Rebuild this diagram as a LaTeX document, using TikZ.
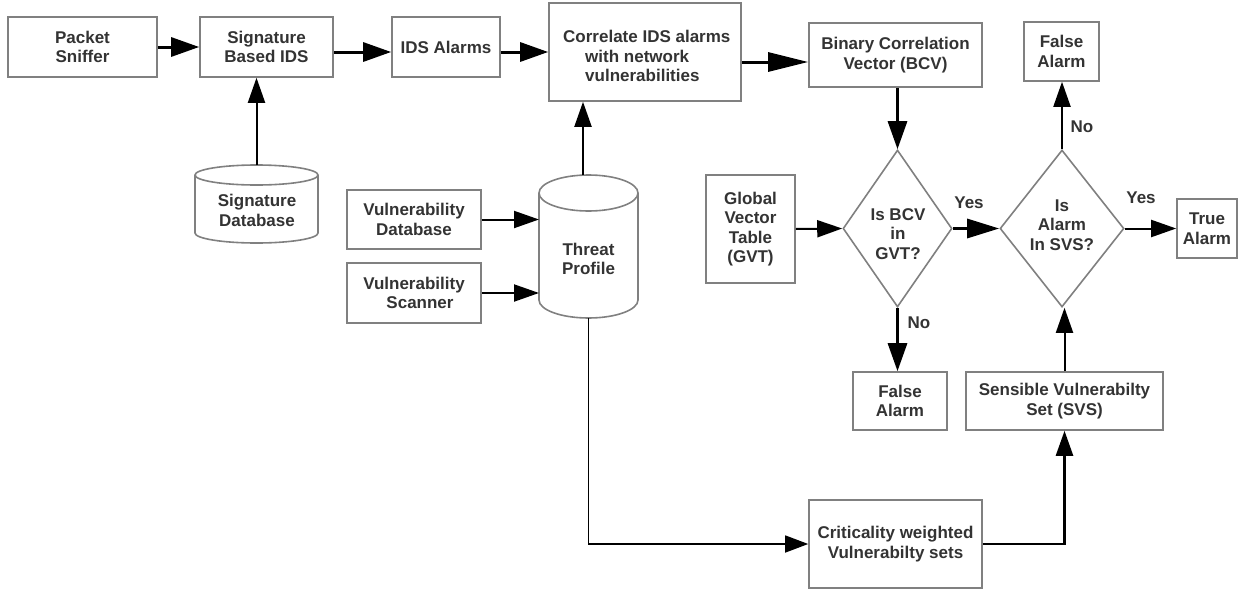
\documentclass[tikz,border=0pt]{standalone}
\usepackage{fontspec}
\setmainfont{Liberation Sans}
\usetikzlibrary{arrows.meta,shapes.geometric}
\definecolor{edgegray}{HTML}{808080}
\definecolor{inkgray}{HTML}{333333}
\begin{document}
\begin{tikzpicture}[x=1pt,y=-1pt,
  every node/.style={font=\fontsize{17}{19.5}\selectfont\bfseries, text=inkgray},
  box/.style={draw=edgegray, line width=1.6pt, fill=white, align=center, inner sep=0pt},
  decision/.style={diamond, draw=edgegray, line width=1.6pt, fill=white, inner sep=0pt},
  cyl/.style={draw=edgegray, line width=1.6pt, fill=white},
  holder/.style={inner sep=0pt, outer sep=0pt},
  caption/.style={align=center, inner sep=0pt},
  answer/.style={inner sep=0pt},
  flowthick/.style={line width=3pt, -{Triangle[length=28pt,width=19pt]}},
  flowthin/.style={line width=2pt, -{Triangle[length=25pt,width=17pt]}},
  flowhair/.style={line width=1.5pt, -{Triangle[length=23pt,width=17pt]}}]

\useasboundingbox (0,0) rectangle (1248,589);

% --- IDS pipeline, top row
\node[box, minimum width=149pt, minimum height=60pt] (ps) at (82.5,47) {Packet\\Sniffer};
\node[box, minimum width=133pt, minimum height=60pt] (sig) at (266.5,47) {Signature\\Based IDS};
\node[box, minimum width=108pt, minimum height=60pt] (alarms) at (446,47) {IDS Alarms};
\node[box, minimum width=192pt, minimum height=98pt] (corr) at (645,52) {};
\node[align=left, inner sep=0pt, anchor=west] (corrtxt) at (563,56)
  {Correlate IDS alarms\\\hspace*{22pt}with network\\\hspace*{22pt}vulnerabilities};
\node[box, minimum width=173pt, minimum height=64pt] (bcv) at (895.5,55) {Binary Correlation\\Vector (BCV)};
\node[box, minimum width=75pt, minimum height=59pt] (fa1) at (1061.5,51.5) {False\\Alarm};

% --- signature database (cylinder)
\draw[cyl] (195,175) -- (195,233)
  arc[start angle=180, end angle=360, x radius=61.5pt, y radius=10pt] -- (318,175);
\draw[cyl] (256.5,175) ellipse [x radius=61.5pt, y radius=10pt];
\node[holder, minimum width=123pt, minimum height=78pt] (sigdb) at (256.5,204) {};
\node[caption] (sigdbtxt) at (257,210.5) {Signature\\Database};

% --- vulnerability sources
\node[box, minimum width=134pt, minimum height=59pt] (vdb) at (414,219.5) {Vulnerability\\Database};
\node[box, minimum width=134pt, minimum height=60pt] (vsc) at (414,293) {Vulnerability\\\hspace*{12pt}Scanner};

% --- threat profile (cylinder)
\draw[cyl] (539,193) -- (539,300)
  arc[start angle=180, end angle=360, x radius=49.5pt, y radius=18pt] -- (638,193);
\draw[cyl] (588.5,193) ellipse [x radius=49.5pt, y radius=18pt];
\node[holder, minimum width=99pt, minimum height=143pt] (tp) at (588.5,246.5) {};
\node[caption] (tptxt) at (588.5,259) {Threat\\Profile};

% --- decision part
\node[box, minimum width=89pt, minimum height=108pt] (gvt) at (750.5,229) {Global\\Vector\\Table\\(GVT)};
\node[decision, minimum width=109pt, minimum height=157pt] (d1) at (897.5,228.5) {};
\node[caption] (d1txt) at (898,234) {Is BCV\\in\\GVT?};
\node[decision, minimum width=124pt, minimum height=157pt] (d2) at (1062,228.5) {};
\node[caption] (d2txt) at (1062,225) {Is\\Alarm\\In SVS?};
\node[box, minimum width=60pt, minimum height=59pt] (ta) at (1207,228.5) {True\\Alarm};
\node[box, minimum width=94pt, minimum height=58pt] (fa2) at (900,401) {False\\Alarm};
\node[box, minimum width=197pt, minimum height=58pt] (svs) at (1064.5,401) {Sensible Vulnerabilty\\Set (SVS)};
\node[box, minimum width=173pt, minimum height=88pt] (crit) at (895.5,544) {Criticality weighted\\Vulnerabilty sets};

% --- branch answers
\node[answer] (yes1) at (969,203) {Yes};
\node[answer] (yes2) at (1141,198) {Yes};
\node[answer] (no1) at (1082,127) {No};
\node[answer] (no2) at (919,323) {No};

% --- connectors
\coordinate (sigout) at ([yshift=-5pt]sig.east);
\coordinate (alout) at ([yshift=-5pt]alarms.east);
\coordinate (corrout) at ([yshift=-10pt]corr.east);
\coordinate (tpup) at ([xshift=-5.5pt]tp.north);

\draw[flowthick] (ps.east) -- (sig.west);
\draw[flowthick] (sigout) -- (sigout -| alarms.west);
\draw[flowthick] (alout) -- (alout -| corr.west);
\draw[line width=3pt, -{Triangle[length=40pt,width=19pt]}] (corrout) -- (corrout -| bcv.west);
\draw[flowthin] (sigdb.north) -- (sigdb.north |- sig.south);
\draw[flowthin] (tpup) -- (tpup |- corr.south);
\draw[flowthin] (vdb.east) -- (vdb.east -| tp.west);
\draw[flowthin] (vsc.east) -- (vsc.east -| tp.west);
\draw[flowhair] (tp.south) |- (crit.west);
\draw[line width=2.5pt, -{Triangle[length=25pt,width=17pt]}] (crit.east) -| (svs.south);
\draw[flowthin] (svs.north) -- (svs.north |- d2.south);
\draw[flowthick] (d1.north |- bcv.south) -- (d1.north);
\draw[flowthin] (gvt.east) -- (d1.west);
\draw[line width=3pt, -{Triangle[length=32pt,width=19pt]}] (d1.east) -- (d2.west);
\draw[flowthick] (d1.south) -- (d1.south |- fa2.north);
\draw[flowthin] (d2.north) -- (d2.north |- fa1.south);
\draw[flowthin] (d2.east) -- (ta.west);
\end{tikzpicture}
\end{document}
